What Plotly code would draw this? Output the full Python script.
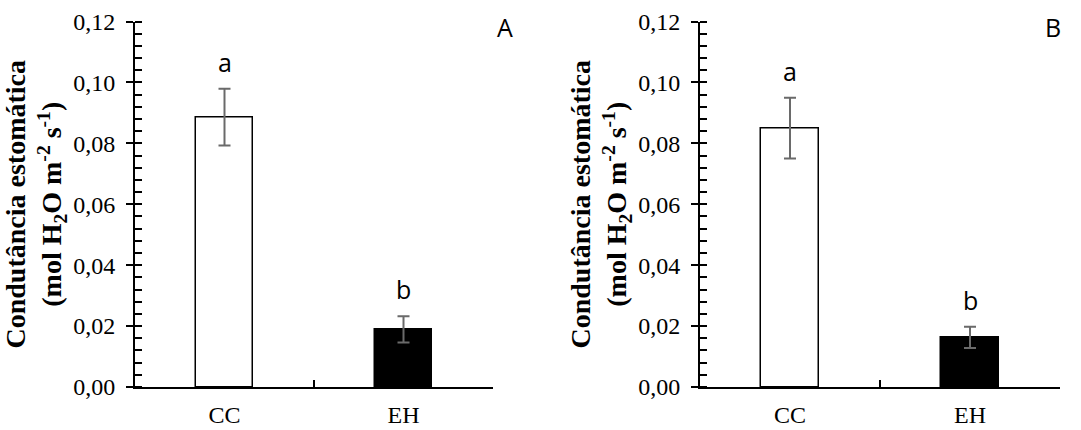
import plotly.graph_objects as go

categories = ["CC", "EH"]
panel_a_means = [0.0886, 0.0189]
panel_a_err = [0.0093, 0.0043]
panel_b_means = [0.0850, 0.0163]
panel_b_err = [0.0100, 0.0035]
letters_a = ["a", "b"]
letters_b = ["a", "b"]
panel_labels = ["A", "B"]
y_ticks = [0.00, 0.02, 0.04, 0.06, 0.08, 0.10, 0.12]
y_title = "Condutância estomática<br>(mol H<sub>2</sub>O m<sup>-2</sup> s<sup>-1</sup>)"

W, H = 1081, 430
SERIF = "Liberation Serif"
SANS = "Open Sans"

fig = go.Figure()

panels = [
    dict(means=panel_a_means, err=panel_a_err, letters=letters_a, label=panel_labels[0],
         xd=[135 / W, 493 / W], xa="x", ya="y", ya_over="y3", lab_x=505 / W),
    dict(means=panel_b_means, err=panel_b_err, letters=letters_b, label=panel_labels[1],
         xd=[700 / W, 1060 / W], xa="x2", ya="y2", ya_over="y4", lab_x=1053 / W),
]

ydom = [1 - 387 / H, 1 - 21.5 / H]

for p in panels:
    fig.add_trace(go.Bar(
        x=categories, y=p["means"], width=0.317,
        marker=dict(color=["white", "black"], line=dict(color="black", width=1.5)),
        error_y=dict(type="data", array=p["err"], visible=True, color="#6a6a6a",
                     thickness=2, width=6),
        xaxis=p["xa"], yaxis=p["ya"], showlegend=False, hoverinfo="skip",
    ))
    fig.add_trace(go.Scatter(
        x=categories, y=p["means"], mode="markers", marker=dict(opacity=0),
        xaxis=p["xa"], yaxis=p["ya_over"], showlegend=False, hoverinfo="skip",
    ))
    for c, m, e, l in zip(categories, p["means"], p["err"], p["letters"]):
        fig.add_annotation(x=c, y=m + e, xref=p["xa"], yref=p["ya"], text=l,
                           showarrow=False, yanchor="bottom", yshift=8,
                           font=dict(family=SANS, size=25, color="black"))
    fig.add_annotation(x=p["lab_x"], y=1 - 27 / H, xref="paper", yref="paper",
                       text=p["label"], showarrow=False, xanchor="center", yanchor="middle",
                       font=dict(family=SANS, size=25, color="black"))

xcommon = dict(type="category", range=[-0.5, 1.5], showline=True, linecolor="black",
               linewidth=2, ticks="inside", tickson="boundaries", ticklen=7, tickwidth=2,
               tickcolor="black", showgrid=False, zeroline=False, ticklabelstandoff=5,
               automargin=False,
               tickfont=dict(family=SERIF, size=24, color="black"), fixedrange=True)
ycommon = dict(range=[0, 0.12], domain=ydom, showline=True, linecolor="black", linewidth=2,
               ticks="outside", ticklen=7, tickwidth=2, tickcolor="black",
               tickvals=y_ticks, tickformat=".2f", showgrid=False, zeroline=False,
               ticklabelstandoff=6, automargin=False,
               minor=dict(ticks="inside", ticklen=7, tickwidth=2, tickcolor="black",
                          dtick=0.004, showgrid=False),
               tickfont=dict(family=SERIF, size=24, color="black"),
               title=dict(text=y_title, standoff=3,
                          font=dict(family=SERIF, size=28, color="black", weight="bold")))
yover = dict(range=[0, 0.12], domain=ydom, showline=False, ticks="inside", ticklen=7,
             tickwidth=2, tickcolor="black", tickvals=y_ticks, showticklabels=False,
             showgrid=False, zeroline=False, automargin=False)

fig.update_layout(
    width=W, height=H, margin=dict(l=0, r=0, t=0, b=0, autoexpand=False),
    paper_bgcolor="white", plot_bgcolor="white", separators=",.",
    bargap=0.0,
    xaxis=dict(domain=panels[0]["xd"], anchor="y", **xcommon),
    xaxis2=dict(domain=panels[1]["xd"], anchor="y2", **xcommon),
    yaxis=dict(anchor="x", **ycommon),
    yaxis2=dict(anchor="x2", **ycommon),
    yaxis3=dict(anchor="x", overlaying="y", **yover),
    yaxis4=dict(anchor="x2", overlaying="y2", **yover),
)

fig.write_html("out.html")
